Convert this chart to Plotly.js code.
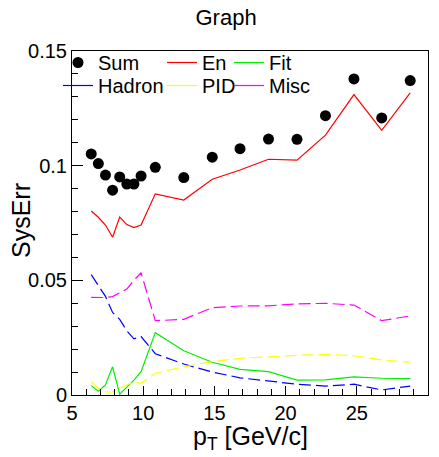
<!DOCTYPE html>
<html><head><meta charset="utf-8">
<script src="https://cdn.plot.ly/plotly-3.0.1.min.js"></script>
<style>body{margin:0;background:#fff}#g{width:439px;height:457px}</style>
</head><body><div id="g"></div>
<script>
const pt = [6.35, 6.85, 7.35, 7.85, 8.35, 8.85, 9.35, 9.85, 10.85, 12.85, 14.85, 16.8, 18.8, 20.8, 22.8, 24.8, 26.75, 28.75];
const sumErr = [0.1051, 0.1009, 0.0959, 0.0893, 0.0951, 0.0920, 0.0920, 0.0955, 0.0993, 0.0948, 0.1037, 0.1074, 0.1116, 0.1115, 0.1218, 0.1378, 0.1208, 0.1371];
const enErr = [0.0802, 0.0775, 0.0741, 0.0688, 0.0776, 0.0743, 0.0730, 0.0741, 0.0877, 0.0850, 0.0941, 0.0981, 0.1028, 0.1024, 0.1133, 0.1310, 0.1154, 0.1317];
const fitErr = [0.0041, 0.0017, 0.0044, 0.0123, 0.0004, 0.0036, 0.0065, 0.0102, 0.0272, 0.0193, 0.0143, 0.0112, 0.0102, 0.0065, 0.0066, 0.0079, 0.0073, 0.0071];
const hadronErr = [0.0525, 0.0480, 0.0430, 0.0360, 0.0330, 0.0280, 0.0245, 0.0255, 0.0180, 0.0135, 0.0100, 0.0075, 0.0062, 0.0047, 0.0039, 0.0047, 0.0022, 0.0039];
const pidErr = [0.0058, 0.0029, 0.0014, 0.0013, 0.0029, 0.0044, 0.0058, 0.0051, 0.0095, 0.0123, 0.0145, 0.0160, 0.0167, 0.0173, 0.0177, 0.0171, 0.0153, 0.0143];
const miscErr = [0.0426, 0.0425, 0.0425, 0.0429, 0.0444, 0.0462, 0.0500, 0.0533, 0.0324, 0.0330, 0.0381, 0.0388, 0.0389, 0.0397, 0.0400, 0.0399, 0.0392, 0.0324, 0.0345];
miscErr.splice(15,1);
const seriesNames = ['Sum', 'En', 'Fit', 'Hadron', 'PID', 'Misc'];
const FONT = 'Liberation Sans, Arial, sans-serif';
const colors = {En: '#ff0000', Fit: '#00ee00', Hadron: '#0000ff', PID: '#ffff00', Misc: '#ff00ff'};
const legendOf = {Sum: 'legend', En: 'legend2', Fit: 'legend3', Hadron: 'legend4', PID: 'legend5', Misc: 'legend6'};

function line(name, y, dash){
  return {x: pt, y: y, name: name, type: 'scatter', mode: 'lines',
    line: {color: colors[name], width: 1.2, dash: dash}, showlegend: false};
}
function legendEntry(name){
  return {x: [null], y: [null], name: name, type: 'scatter', mode: 'lines',
    line: {color: colors[name], width: 1.2}, legend: legendOf[name], showlegend: true, hoverinfo: 'skip'};
}
const traces = [
  line('En', enErr, 'solid'),
  line('Fit', fitErr, 'solid'),
  line('Hadron', hadronErr, '12px,5px'),
  line('PID', pidErr, '12px,5px'),
  line('Misc', miscErr, '12px,5px'),
  {x: pt, y: sumErr, name: 'Sum', type: 'scatter', mode: 'markers',
   marker: {color: '#000', size: 11, symbol: 'circle'}, legend: 'legend', showlegend: true},
  legendEntry('En'), legendEntry('Fit'), legendEntry('Hadron'), legendEntry('PID'), legendEntry('Misc')
];
const plotL = 72, plotW = 356, plotT = 51, plotH = 344;
const leg = (leftPx, topPx) => ({x: (leftPx - plotL) / plotW, y: 1 + (plotT - topPx) / plotH,
  xref: 'paper', yref: 'paper', xanchor: 'left', yanchor: 'top',
  bgcolor: 'rgba(0,0,0,0)', borderwidth: 0, font: {family: FONT, size: 20, color: '#000'},
  itemwidth: 30, tracegroupgap: 0});
const layout = {
  width: 439, height: 457,
  margin: {l: plotL, r: 11, t: plotT, b: 62},
  paper_bgcolor: '#fff', plot_bgcolor: '#fff',
  font: {family: FONT, color: '#000'},
  title: {text: 'Graph', x: 0.515, xref: 'container', y: 0.963, yref: 'container', yanchor: 'middle', font: {family: FONT, size: 22, color: '#000'}},
  showlegend: true,
  legend: leg(58, 43), legend4: leg(58, 66),
  legend2: leg(162, 43), legend5: leg(162, 66),
  legend3: leg(229, 43), legend6: leg(229, 66),
  xaxis: {range: [5, 30], dtick: 5, tick0: 5, ticks: 'inside', ticklen: 9, tickwidth: 1, tickcolor: '#000',
    minor: {dtick: 1, ticks: 'inside', ticklen: 6, tickcolor: '#000'},
    showline: true, linecolor: '#000', linewidth: 1, mirror: true, showgrid: false, zeroline: false,
    tickfont: {family: FONT, size: 20, color: '#000'}},
  yaxis: {range: [0, 0.15], dtick: 0.05, tick0: 0, ticks: 'inside', ticklen: 11, tickwidth: 1, tickcolor: '#000',
    minor: {dtick: 0.01, ticks: 'inside', ticklen: 6, tickcolor: '#000'},
    showline: true, linecolor: '#000', linewidth: 1, mirror: true, showgrid: false, zeroline: false,
    tickfont: {family: FONT, size: 20, color: '#000'}},
  annotations: [
    {text: 'p<sub>T</sub> [GeV/c]', xref: 'paper', yref: 'paper', x: 0.5, y: 0, yshift: -43, xanchor: 'center', yanchor: 'middle',
     showarrow: false, font: {family: FONT, size: 25, color: '#000'}},
    {text: 'SysErr', xref: 'paper', yref: 'paper', x: 0, xshift: -51, y: 0.5, yshift: 2, textangle: -90, xanchor: 'center', yanchor: 'middle',
     showarrow: false, font: {family: FONT, size: 25, color: '#000'}}
  ]
};
Plotly.newPlot('g', traces, layout, {displayModeBar: false, staticPlot: true});
</script></body></html>
